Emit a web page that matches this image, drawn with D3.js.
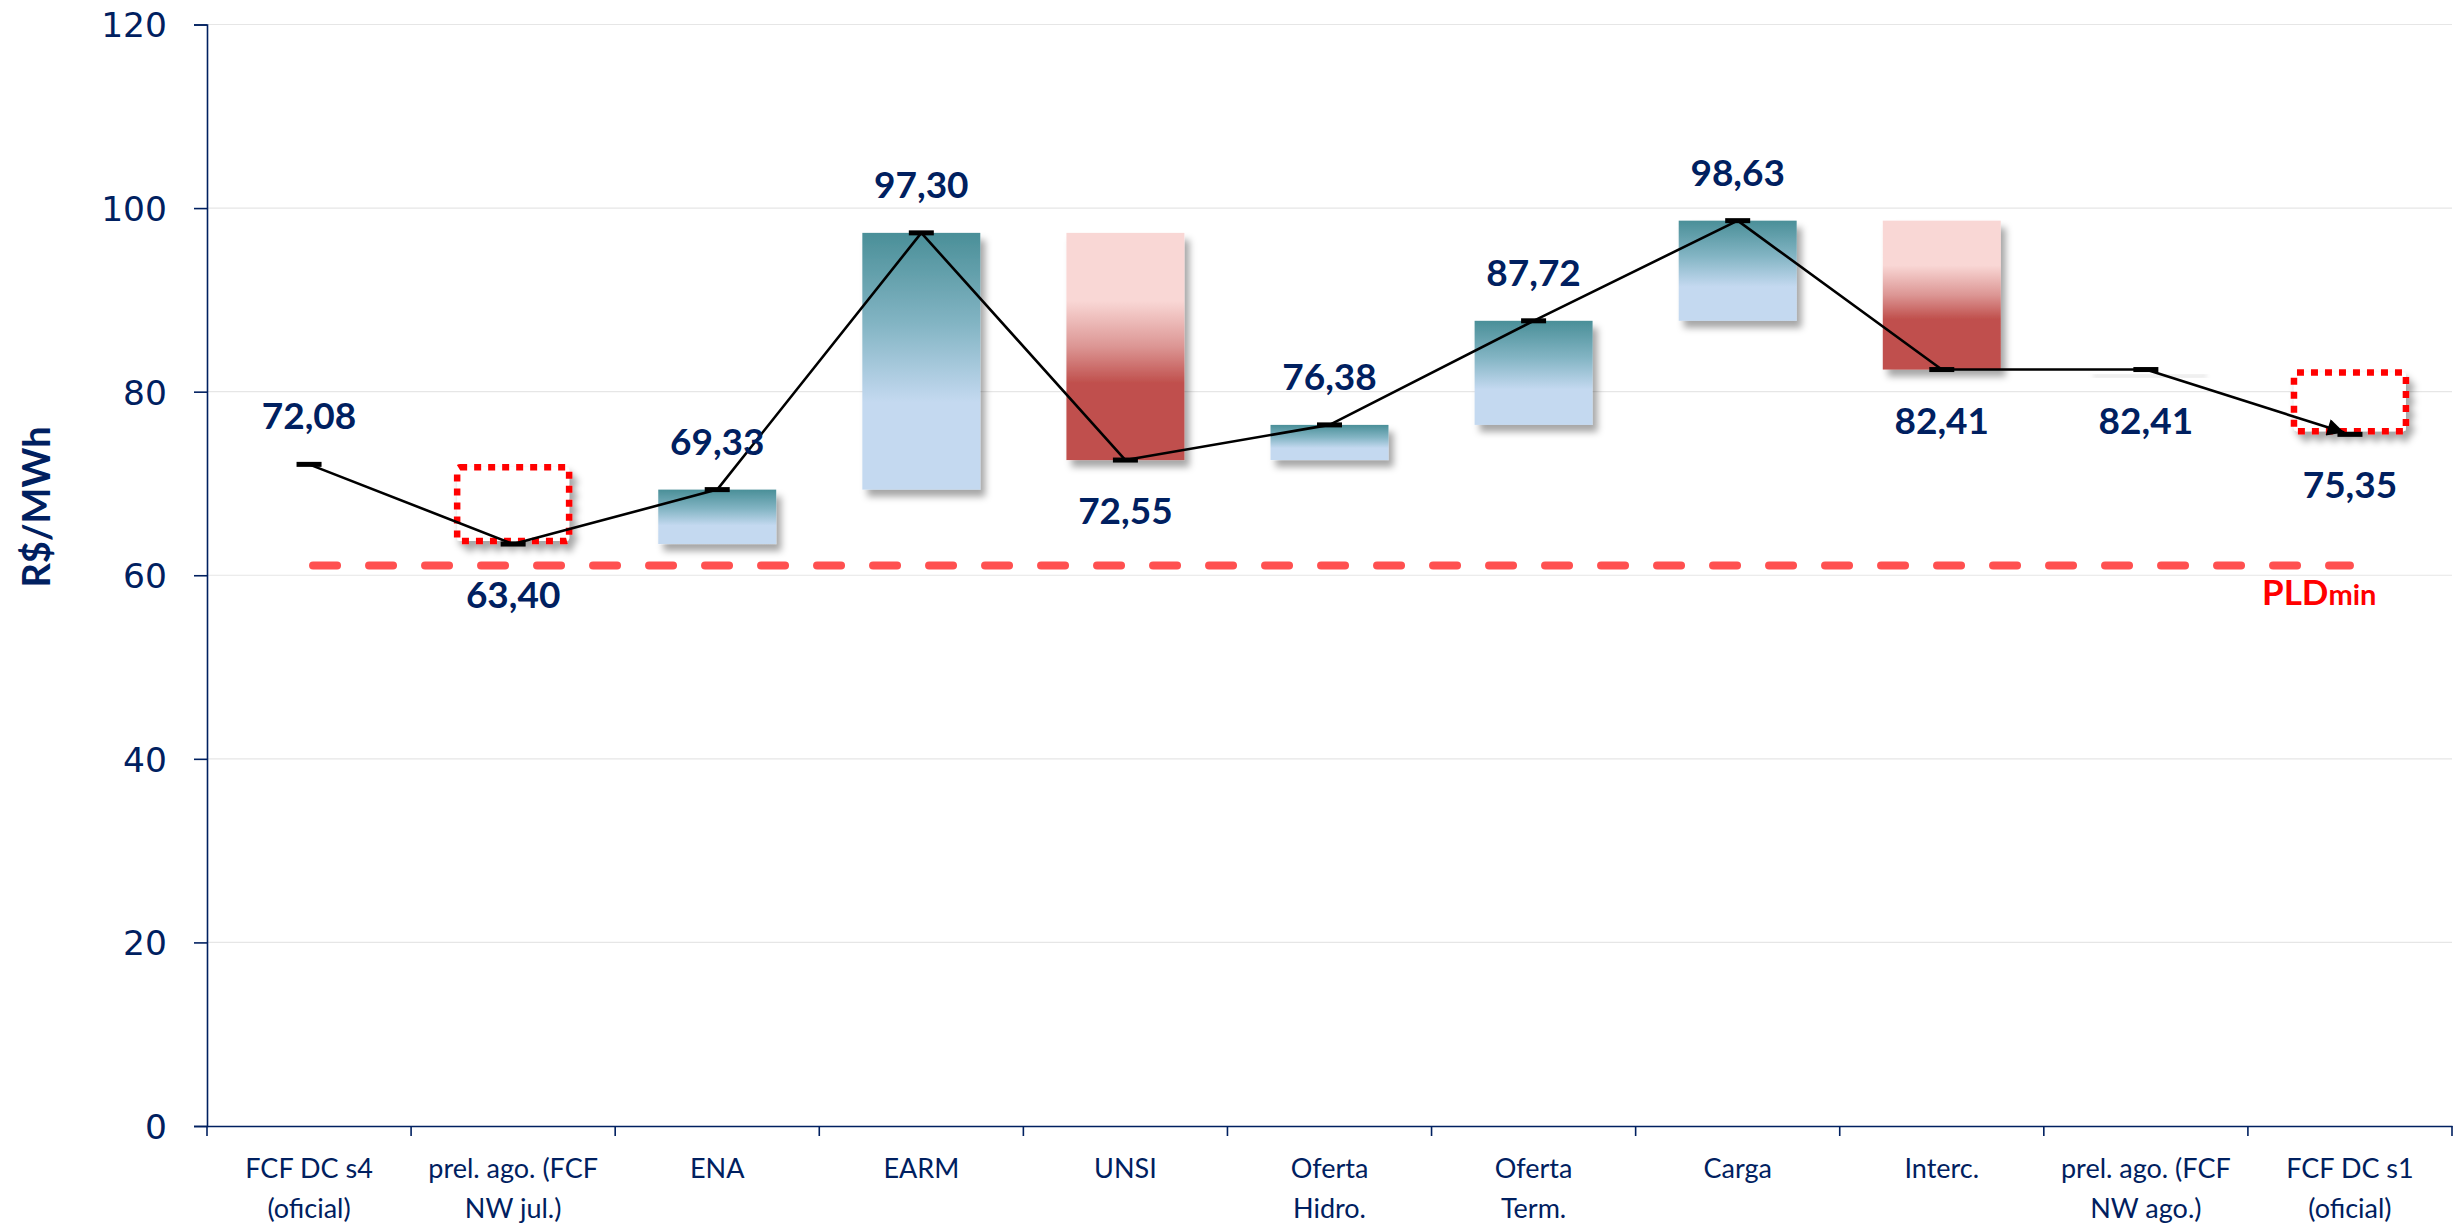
<!DOCTYPE html>
<html>
<head>
<meta charset="utf-8">
<script src="https://cdn.jsdelivr.net/npm/d3@7"></script>
<style>
  html, body { margin: 0; padding: 0; background: #ffffff; }
  svg { display: block; }
</style>
</head>
<body>
<svg id="chart" width="2458" height="1232"></svg>
<script>
// ---- data ----
const categories = [
  ["FCF DC s4", "(oficial)"],
  ["prel. ago. (FCF", "NW jul.)"],
  ["ENA"],
  ["EARM"],
  ["UNSI"],
  ["Oferta", "Hidro."],
  ["Oferta", "Term."],
  ["Carga"],
  ["Interc."],
  ["prel. ago. (FCF", "NW ago.)"],
  ["FCF DC s1", "(oficial)"]
];
const values = [72.08, 63.40, 69.33, 97.30, 72.55, 76.38, 87.72, 98.63, 82.41, 82.41, 75.35];
const labelSide = ["above", "below", "above", "above", "below", "above", "above", "above", "below", "below", "below"];
const barKind = ["none", "dotted", "up", "up", "down", "up", "up", "up", "down", "flat", "dotted"];
const yTicks = [0, 20, 40, 60, 80, 100, 120];
const pldMin = 61.07;
const yTitle = "R$/MWh";

(function () {
// ---- layout ----
const pLeft = 207, pRight = 2452, pTop = 24.5, pBottom = 1126;
const navy = "#002060";

const svg = d3.select("#chart");
const defs = svg.append("defs");

const gUp = defs.append("linearGradient").attr("id", "gUp")
  .attr("x1", 0).attr("y1", 0).attr("x2", 0).attr("y2", 1);
gUp.append("stop").attr("offset", 0).attr("stop-color", "#4a8f98");
gUp.append("stop").attr("offset", 0.35).attr("stop-color", "#82b4c3");
gUp.append("stop").attr("offset", 0.66).attr("stop-color", "#c4d9f0");
gUp.append("stop").attr("offset", 1).attr("stop-color", "#c4d9f0");

const gDown = defs.append("linearGradient").attr("id", "gDown")
  .attr("x1", 0).attr("y1", 0).attr("x2", 0).attr("y2", 1);
gDown.append("stop").attr("offset", 0).attr("stop-color", "#f9d7d5");
gDown.append("stop").attr("offset", 0.30).attr("stop-color", "#f9d7d5");
gDown.append("stop").attr("offset", 0.50).attr("stop-color", "#dc9694");
gDown.append("stop").attr("offset", 0.66).attr("stop-color", "#c0504d");
gDown.append("stop").attr("offset", 1).attr("stop-color", "#c0504d");

const shadow = defs.append("filter").attr("id", "shadow")
  .attr("x", "-20%").attr("y", "-20%").attr("width", "150%").attr("height", "160%");
shadow.append("feDropShadow").attr("dx", 5).attr("dy", 7).attr("stdDeviation", 3.5)
  .attr("flood-color", "#000").attr("flood-opacity", 0.35);

const blur = defs.append("filter").attr("id", "blur");
blur.append("feGaussianBlur").attr("stdDeviation", 2);

defs.append("marker").attr("id", "arrow")
  .attr("viewBox", "0 0 10 10").attr("refX", 10).attr("refY", 5)
  .attr("markerWidth", 8).attr("markerHeight", 6.5).attr("markerUnits", "strokeWidth")
  .attr("orient", "auto")
  .append("path").attr("d", "M0,0 L10,5 L0,10 Z").attr("fill", "#000");

const x = d3.scaleBand().domain(d3.range(categories.length)).range([pLeft, pRight]).padding(0);
const y = d3.scaleLinear().domain([0, 120]).range([pBottom, pTop]);
const bw = x.bandwidth() * 0.578;
const cx = i => x(i) + x.bandwidth() / 2;

// gridlines
svg.append("g").selectAll("line").data(yTicks.filter(d => d > 0)).join("line")
  .attr("x1", pLeft).attr("x2", pRight)
  .attr("y1", d => y(d)).attr("y2", d => y(d))
  .attr("stroke", "#e6e6e6").attr("stroke-width", 1.2);

// y axis
const yAxis = svg.append("g").attr("transform", `translate(${pLeft},0)`)
  .call(d3.axisLeft(y).tickValues(yTicks).tickSize(13).tickPadding(27).tickFormat(d3.format("d")));
yAxis.select(".domain").attr("stroke", navy).attr("stroke-width", 1.6);
yAxis.selectAll(".tick line").attr("stroke", navy).attr("stroke-width", 1.6);
yAxis.selectAll(".tick text").attr("fill", navy)
  .attr("font-family", "'DejaVu Sans', Verdana, sans-serif")
  .attr("font-size", 34.5).attr("dy", "0.36em");

// x axis
const xAxis = svg.append("g").attr("transform", `translate(0,${pBottom})`)
  .call(d3.axisBottom(x).tickSize(0).tickFormat(""));
xAxis.select(".domain").attr("stroke", navy).attr("stroke-width", 1.6);
const boundaries = d3.range(categories.length + 1).map(i => pLeft + i * x.bandwidth());
xAxis.selectAll("line.sep").data(boundaries).join("line").attr("class", "sep")
  .attr("x1", d => d).attr("x2", d => d).attr("y1", 0).attr("y2", 10)
  .attr("stroke", navy).attr("stroke-width", 1.6);

const xl = svg.append("g");
categories.forEach((lines, i) => {
  const t = xl.append("text").attr("text-anchor", "middle")
    .attr("font-family", "Lato, 'Open Sans', sans-serif").attr("font-size", 27)
    .attr("fill", navy);
  lines.forEach((ln, k) => {
    t.append("tspan").attr("x", cx(i)).attr("y", 1178 + k * 40).text(ln);
  });
});

// y title
svg.append("text")
  .attr("transform", `translate(50,507) rotate(-90)`)
  .attr("text-anchor", "middle")
  .attr("font-family", "Lato, 'Open Sans', sans-serif").attr("font-weight", 700)
  .attr("font-size", 38).attr("fill", navy).text(yTitle);

// PLDmin dashed line
svg.append("line")
  .attr("x1", cx(0) + 4).attr("x2", cx(categories.length - 1))
  .attr("y1", y(pldMin)).attr("y2", y(pldMin))
  .attr("stroke", "#ff5050").attr("stroke-width", 8)
  .attr("stroke-linecap", "round").attr("stroke-dasharray", "24,32");

const pld = svg.append("text")
  .attr("x", 2262).attr("y", 605)
  .attr("font-family", "Lato, 'Open Sans', sans-serif").attr("font-weight", 700)
  .attr("fill", "#ff0000");
pld.append("tspan").attr("font-size", 35).text("PLD");
pld.append("tspan").attr("font-size", 29).text("min");

// bars
const barData = values.map((v, i) => ({
  i, v, prev: i > 0 ? values[i - 1] : v, kind: barKind[i]
}));
const gb = svg.append("g");
barData.filter(d => d.kind === "up" || d.kind === "down").forEach(d => {
  const y0 = y(Math.max(d.v, d.prev)), y1 = y(Math.min(d.v, d.prev));
  gb.append("rect")
    .attr("x", cx(d.i) - bw / 2).attr("y", y0)
    .attr("width", bw).attr("height", y1 - y0)
    .attr("fill", d.kind === "up" ? "url(#gUp)" : "url(#gDown)")
    .attr("filter", "url(#shadow)");
});
barData.filter(d => d.kind === "flat").forEach(d => {
  gb.append("rect")
    .attr("x", cx(d.i) - bw / 2 + 6).attr("y", y(d.v) + 5)
    .attr("width", bw - 4).attr("height", 3)
    .attr("fill", "#c8c8c8").attr("opacity", 0.6).attr("filter", "url(#blur)");
});
barData.filter(d => d.kind === "dotted").forEach(d => {
  const y0 = y(Math.max(d.v, d.prev)), y1 = y(Math.min(d.v, d.prev));
  gb.append("rect")
    .attr("x", cx(d.i) - bw / 2 + 3).attr("y", y0 + 3)
    .attr("width", bw - 6).attr("height", y1 - y0 - 6)
    .attr("fill", "#ffffff").attr("stroke", "#ff0000").attr("stroke-width", 6.5)
    .attr("stroke-dasharray", "7,7").attr("rx", 3)
    .attr("filter", "url(#shadow)");
});

// line connecting values
const pts = values.map((v, i) => [cx(i), y(v)]);
const lineGen = d3.line();
svg.append("path").attr("d", lineGen(pts.slice(0, pts.length - 1)))
  .attr("fill", "none").attr("stroke", "#000").attr("stroke-width", 2.6)
  .attr("stroke-linejoin", "round");
const last2 = pts.slice(pts.length - 2);
const ddx = last2[1][0] - last2[0][0], ddy = last2[1][1] - last2[0][1];
const len = Math.hypot(ddx, ddy);
const endPt = [last2[1][0] - ddx / len * 6, last2[1][1] - ddy / len * 6];
svg.append("path").attr("d", lineGen([last2[0], endPt]))
  .attr("fill", "none").attr("stroke", "#000").attr("stroke-width", 2.6)
  .attr("marker-end", "url(#arrow)");

// markers
svg.append("g").selectAll("rect").data(pts).join("rect")
  .attr("x", d => d[0] - 12.5).attr("y", d => d[1] - 2.5)
  .attr("width", 25).attr("height", 5).attr("fill", "#000");

// data labels
const fmt = v => d3.format(".2f")(v).replace(".", ",");
svg.append("g").selectAll("text").data(values).join("text")
  .attr("x", (d, i) => cx(i))
  .attr("y", (d, i) => labelSide[i] === "above" ? y(d) - 35 : y(d) + 64)
  .attr("text-anchor", "middle")
  .attr("font-family", "Lato, 'Open Sans', sans-serif").attr("font-weight", 700)
  .attr("font-size", 37).attr("fill", navy)
  .text(d => fmt(d));
})();
</script>
</body>
</html>
